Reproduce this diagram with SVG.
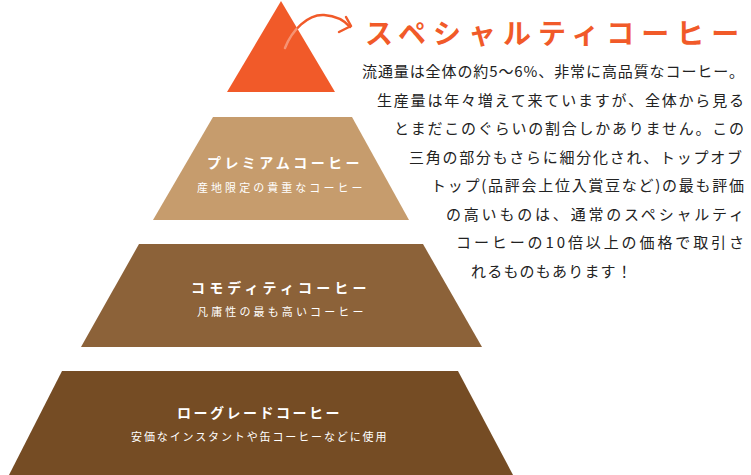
<svg xmlns="http://www.w3.org/2000/svg" width="751" height="475" viewBox="0 0 751 475">
  <style>
    .jp { font-family: "Noto Sans CJK JP", "Noto Sans", sans-serif; }
    .head { font-size: 14px; font-weight: 700; fill: #ffffff; letter-spacing: 3.5px; }
    .sub { font-size: 11px; font-weight: 400; fill: #ffffff; letter-spacing: 2.5px; }
    .para { font-size: 15px; fill: #222222; }
    .title { font-size: 28px; font-weight: 700; fill: #f15a29; letter-spacing: 7px; }
  </style>
  <defs>
    <clipPath id="triClip">
      <polygon points="281,1 227,92 335,92"/>
    </clipPath>
  </defs>

  <g id="specialty">
    <polygon points="281,1 227,92 335,92" fill="#f15a29"/>
    <text class="jp title" x="365" y="44">スペシャルティコーヒー</text>
  </g>

  <g id="premium">
    <polygon points="213,117 352,117 409,220 153,220" fill="#c69c6d"/>
    <text class="jp head" x="207" y="168" textLength="156" lengthAdjust="spacing">プレミアムコーヒー</text>
    <text class="jp sub" x="197" y="192" textLength="168" lengthAdjust="spacing">産地限定の貴重なコーヒー</text>
  </g>

  <g id="commodity">
    <polygon points="139,244 423,244 482,347 81,347" fill="#8c6239"/>
    <text class="jp head" x="191" y="293" textLength="179" lengthAdjust="spacing">コモディティコーヒー</text>
    <text class="jp sub" x="197" y="316" textLength="169" lengthAdjust="spacing">凡庸性の最も高いコーヒー</text>
  </g>

  <g id="lowgrade">
    <polygon points="62,371 458,371 513,475 9,475" fill="#754c24"/>
    <text class="jp head" x="177" y="418" textLength="166" lengthAdjust="spacing">ローグレードコーヒー</text>
    <text class="jp sub" x="131" y="441" textLength="258" lengthAdjust="spacing">安価なインスタントや缶コーヒーなどに使用</text>
  </g>

  <g id="description" class="jp para">
    <text x="362" y="77" textLength="382" lengthAdjust="spacing">流通量は全体の約5〜6%、非常に高品質なコーヒー。</text>
    <text x="377" y="105.5" textLength="367" lengthAdjust="spacing">生産量は年々増えて来ていますが、全体から見る</text>
    <text x="394" y="134" textLength="350" lengthAdjust="spacing">とまだこのぐらいの割合しかありません。この</text>
    <text x="409" y="162.5" textLength="333" lengthAdjust="spacing">三角の部分もさらに細分化され、トップオブ</text>
    <text x="431" y="191" textLength="313" lengthAdjust="spacing">トップ(品評会上位入賞豆など)の最も評価</text>
    <text x="446" y="219.5" textLength="298" lengthAdjust="spacing">の高いものは、通常のスペシャルティ</text>
    <text x="456" y="248" textLength="288" lengthAdjust="spacing">コーヒーの10倍以上の価格で取引さ</text>
    <text x="471" y="276.5" letter-spacing="1.2">れるものもあります！</text>
  </g>

  <g id="connectors" fill="none" stroke-linecap="round" stroke-linejoin="round">
    <path d="M285,48 C292,30 308,14 324,15 C337,16 345,21 350,27" stroke="#f15a29" stroke-width="2.5"/>
    <path d="M285,48 C292,30 308,14 324,15 C337,16 345,21 350,27" stroke="#ffffff" stroke-opacity="0.35" stroke-width="2.5" clip-path="url(#triClip)"/>
    <polyline points="346,17 351,26 339,32" stroke="#f15a29" stroke-width="2.5"/>
  </g>
</svg>
